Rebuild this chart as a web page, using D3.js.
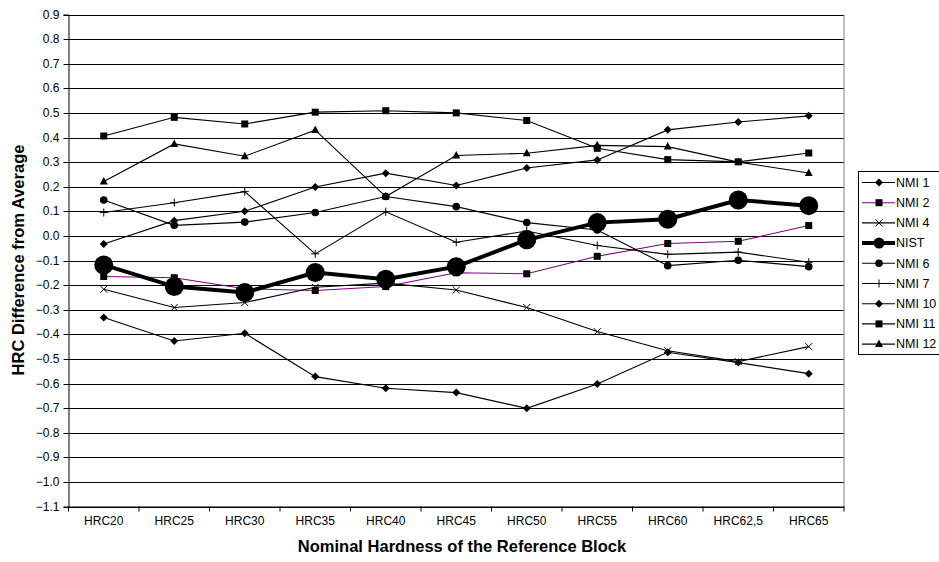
<!DOCTYPE html>
<html><head><meta charset="utf-8">
<script src="https://cdn.jsdelivr.net/npm/d3@7/dist/d3.min.js"></script>
<style>body{margin:0;background:#fff}svg{display:block;font-family:"Liberation Sans",Arial,sans-serif}</style>
</head><body>
<svg id="c" width="939" height="562"></svg>
<script>
const categories = ["HRC20","HRC25","HRC30","HRC35","HRC40","HRC45","HRC50","HRC55","HRC60","HRC62,5","HRC65"];
const yTicks = [0.9,0.8,0.7,0.6,0.5,0.4,0.3,0.2,0.1,0.0,-0.1,-0.2,-0.3,-0.4,-0.5,-0.6,-0.7,-0.8,-0.9,-1.0,-1.1];
const seriesNames = ["NMI 1","NMI 2","NMI 4","NIST","NMI 6","NMI 7","NMI 10","NMI 11","NMI 12"];
const nmi1  = [-0.332,-0.427,-0.396,-0.572,-0.619,-0.637,-0.701,-0.602,-0.473,-0.515,-0.560];
const nmi2  = [-0.165,-0.170,-0.215,-0.222,-0.206,-0.150,-0.154,-0.083,-0.031,-0.022,0.042];
const nmi4  = [-0.217,-0.291,-0.271,-0.209,-0.192,-0.220,-0.291,-0.389,-0.467,-0.511,-0.450];
const nist  = [-0.118,-0.206,-0.230,-0.149,-0.176,-0.125,-0.016,0.054,0.068,0.146,0.123];
const nmi6  = [0.146,0.043,0.056,0.095,0.160,0.119,0.054,0.024,-0.121,-0.099,-0.125];
const nmi7  = [0.095,0.135,0.180,-0.073,0.098,-0.026,0.020,-0.039,-0.075,-0.066,-0.107];
const nmi10 = [-0.033,0.062,0.100,0.199,0.255,0.205,0.276,0.309,0.431,0.463,0.488];
const nmi11 = [0.406,0.482,0.455,0.503,0.509,0.500,0.469,0.356,0.310,0.301,0.337];
const nmi12 = [0.221,0.374,0.324,0.430,0.160,0.327,0.336,0.368,0.363,0.300,0.256];
const seriesValues = [nmi1,nmi2,nmi4,nist,nmi6,nmi7,nmi10,nmi11,nmi12];
const markers = ["diamond","square","cross","bigcircle","circle","plus","diamond","square","triangle"];
const colors = ["#000","#800080","#000","#000","#000","#000","#000","#000","#000"];

const svg = d3.select("#c");
const L = 68.5, R = 844, T = 14.5, B = 506.5;
const x = d3.scaleBand().domain(categories).range([L,R]);
const y = d3.scaleLinear().domain([-1.1,0.9]).range([B,T]);

// gridlines
svg.append("g").selectAll("line").data(yTicks).join("line")
  .attr("x1",L).attr("x2",R).attr("y1",d=>Math.round(y(d))+0.5).attr("y2",d=>Math.round(y(d))+0.5)
  .attr("stroke","#000").attr("stroke-width",1);
// right border
svg.append("line").attr("x1",R).attr("x2",R).attr("y1",T).attr("y2",B).attr("stroke","#808080");

// y axis
const ya = svg.append("g").attr("transform",`translate(${L},0)`)
  .call(d3.axisLeft(y).tickValues(yTicks).tickSize(5).tickPadding(4).tickFormat(d3.format(".1f")));
ya.selectAll("text").attr("font-size",12).attr("fill","#000").attr("font-family","Liberation Sans, Arial");
ya.selectAll(".tick line").attr("stroke","#000");
ya.select(".domain").attr("stroke","#000");
ya.selectAll(".tick").attr("transform",d=>`translate(0,${Math.round(y(d))+0.5})`);

// x axis
const xa = svg.append("g").attr("transform",`translate(0,${B})`)
  .call(d3.axisBottom(x).tickSize(0).tickPadding(10));
xa.select(".domain").attr("stroke","#000");
xa.selectAll("text").attr("font-size",12).attr("fill","#000").attr("font-family","Liberation Sans, Arial");
const bounds = categories.map(c=>x(c)).concat([R]);
svg.append("g").selectAll("line").data(bounds).join("line")
  .attr("x1",d=>d).attr("x2",d=>d).attr("y1",B).attr("y2",B+5).attr("stroke","#000");

// titles
svg.append("text").attr("x",462).attr("y",552).attr("text-anchor","middle")
  .attr("font-size",16.5).attr("font-weight","bold").text("Nominal Hardness of the Reference Block");
svg.append("text").attr("transform",`translate(24,260) rotate(-90)`).attr("text-anchor","middle")
  .attr("font-size",16.5).attr("font-weight","bold").text("HRC Difference from Average");

function drawMarker(g, type, cx, cy, color){
  if(type==="diamond"){
    g.append("path").attr("d",`M${cx},${cy-4}L${cx+4},${cy}L${cx},${cy+4}L${cx-4},${cy}Z`).attr("fill",color);
  } else if(type==="square"){
    g.append("rect").attr("x",cx-3.5).attr("y",cy-3.5).attr("width",7).attr("height",7).attr("fill","#000");
  } else if(type==="triangle"){
    g.append("path").attr("d",`M${cx},${cy-4.5}L${cx+4},${cy+3}L${cx-4},${cy+3}Z`).attr("fill",color);
  } else if(type==="circle"){
    g.append("circle").attr("cx",cx).attr("cy",cy).attr("r",3.8).attr("fill",color);
  } else if(type==="bigcircle"){
    g.append("circle").attr("cx",cx).attr("cy",cy).attr("r",9.5).attr("fill",color);
  } else if(type==="cross"){
    g.append("path").attr("d",`M${cx-3.5},${cy-3.5}L${cx+3.5},${cy+3.5}M${cx-3.5},${cy+3.5}L${cx+3.5},${cy-3.5}`).attr("stroke",color).attr("stroke-width",1);
  } else if(type==="plus"){
    g.append("path").attr("d",`M${cx-4},${cy}L${cx+4},${cy}M${cx},${cy-4}L${cx},${cy+4}`).attr("stroke",color).attr("stroke-width",1);
  }
}

const line = d3.line().x((d,i)=>x(categories[i])+x.bandwidth()/2).y(d=>y(d));
seriesNames.forEach((name,si)=>{
  const g = svg.append("g");
  const isNist = name==="NIST";
  g.append("path").datum(seriesValues[si]).attr("d",line).attr("fill","none")
    .attr("stroke",colors[si]).attr("stroke-width",isNist?4:1.1);
  seriesValues[si].forEach((v,i)=>{
    drawMarker(g, markers[si], x(categories[i])+x.bandwidth()/2, y(v), "#000");
  });
});

// legend
const lg = svg.append("g");
lg.append("rect").attr("x",858.5).attr("y",171.5).attr("width",100).attr("height",183).attr("fill","#fff").attr("stroke","#000");
seriesNames.forEach((name,i)=>{
  const ly = 182.5 + i*20.2;
  const isNist = name==="NIST";
  lg.append("line").attr("x1",862).attr("x2",895).attr("y1",ly).attr("y2",ly)
    .attr("stroke",colors[i]).attr("stroke-width",isNist?4:1.1);
  if(isNist) lg.append("circle").attr("cx",879).attr("cy",ly).attr("r",5.5).attr("fill","#000");
  else drawMarker(lg, markers[i], 879, ly, "#000");
  lg.append("text").attr("x",896).attr("y",ly).attr("dy","0.35em").attr("font-size",12.5).text(name);
});
</script>
</body></html>
